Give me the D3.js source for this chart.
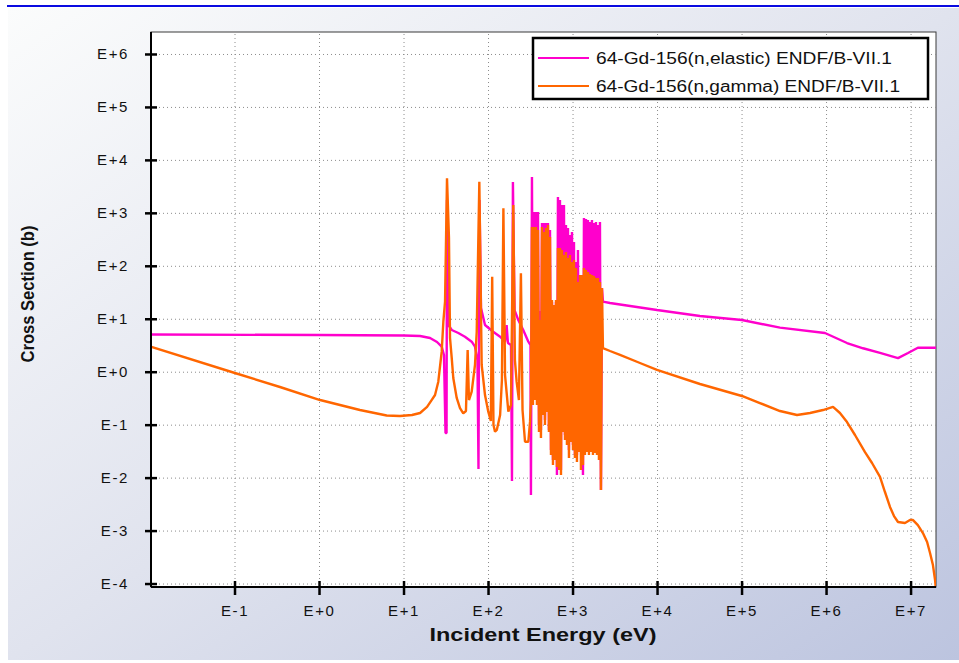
<!DOCTYPE html>
<html>
<head>
<meta charset="utf-8">
<script src="https://cdn.jsdelivr.net/npm/d3@7"></script>
<style>
  html, body { margin: 0; padding: 0; background: #ffffff; }
  svg { display: block; }
  text { font-family: "Liberation Sans", Arial, Helvetica, sans-serif; }
</style>
</head>
<body>
<svg id="chart" width="959" height="663"></svg>
<script>
// ---- data -------------------------------------------------------------
const seriesNames = [
  "64-Gd-156(n,elastic) ENDF/B-VII.1",
  "64-Gd-156(n,gamma) ENDF/B-VII.1"
];
const seriesColors = ["#ff00cc", "#ff6600"];

// decade ticks: incident energy (eV) and cross section (b)
const energyTicks = [1e-1, 1e0, 1e1, 1e2, 1e3, 1e4, 1e5, 1e6, 1e7];
const sigmaTicks  = [1e-4, 1e-3, 1e-2, 1e-1, 1e0, 1e1, 1e2, 1e3, 1e4, 1e5, 1e6];

// [energy eV, cross section b]
const elasticPoints = [
  [0.01, 5.04], [1.0, 4.93], [10.1, 4.83], [15.7, 4.72], [20.6, 4.33], [24.9, 3.64],
  [28.3, 2.97], [30.1, 2.07], [31.4, 0.0696], [32.3, 0.0696], [32.7, 1750], [34.0, 7.62],
  [37.2, 6.13], [44.5, 5.38], [53.3, 4.58], [64.1, 3.69], [70.1, 2.97], [75.0, 1.66],
  [77.1, 0.0145], [79.3, 1750], [82.6, 16.0], [92.1, 7.62], [115, 5.69], [139, 4.58],
  [159, 3.69], [166, 7.62], [172, 3.48], [187, 3.19], [192, 0.00863], [197, 3827],
  [206, 14.6], [228, 9.47], [261, 6.13], [300, 3.69], [318, 3.19], [322, 0.00469],
  [331, 4750], [340, 0.292], [350, 1038], [359, 0.363], [369, 1038], [379, 0.292],
  [390, 1038], [401, 0.0985], [412, 14.0], [423, 0.0793], [435, 643], [447, 0.152],
  [459, 643], [472, 0.122], [485, 643], [498, 0.173], [512, 643], [526, 0.0793],
  [541, 474], [556, 0.0332], [571, 20.7], [587, 0.0215], [603, 18.2], [620, 0.0267],
  [637, 20.7], [654, 0.0112], [672, 1992], [691, 0.0173], [710, 1750], [730, 0.0139],
  [750, 1407], [770, 0.0793], [792, 1407], [814, 0.0638], [836, 590], [859, 0.0513],
  [883, 518], [907, 0.0332], [932, 382], [958, 0.0513], [985, 435], [1012, 0.0413],
  [1040, 282], [1068, 0.0267], [1098, 118], [1128, 0.0267], [1159, 199], [1191, 0.0332],
  [1224, 67.0], [1258, 0.0332], [1293, 67.0], [1329, 0.0112], [1365, 800], [1403, 0.0332],
  [1442, 765], [1481, 0.0332], [1522, 733], [1564, 0.0332], [1608, 672], [1652, 0.0332],
  [1698, 733], [1745, 0.0332], [1793, 643], [1842, 0.0332], [1893, 672], [1945, 0.0332],
  [1999, 590], [2054, 0.0267], [2111, 672], [2169, 0.00583], [2229, 38.1], [2290, 21.0],
  [2776, 19.8], [9980, 14.6], [32.2e3, 11.3], [101e3, 9.47], [285e3, 6.8], [971e3, 5.38],
  [1.77e6, 3.48], [2.74e6, 2.77], [4.35e6, 2.26], [7.10e6, 1.81], [9.33e6, 2.26],
  [1.22e7, 2.84], [2.0e7, 2.84]
];

const gammaPoints = [
  [0.01, 3.0], [0.101, 0.945], [0.345, 0.514], [1.03, 0.292], [3.05, 0.189], [6.32, 0.149],
  [9.08, 0.146], [12.6, 0.152], [15.7, 0.166], [19.0, 0.216], [21.5, 0.29], [23.6, 0.363],
  [25.8, 0.648], [28.3, 2.39], [29.6, 8.79], [31.0, 21.0], [32.7, 4490], [34.5, 335],
  [35.5, 4.33], [37.2, 1.81], [38.8, 0.760], [42.6, 0.319], [46.6, 0.206], [50.9, 0.164],
  [54.8, 0.181], [57.4, 2.57], [59.5, 0.292], [64.1, 0.419], [70.1, 1.34], [73.5, 5.69],
  [78.9, 3875], [84.1, 1.34], [92.1, 0.363], [100.7, 0.176], [108, 0.117], [112, 62.3],
  [116, 0.0985], [121, 0.0736], [127, 0.0793], [139, 0.152], [146, 0.697], [152, 1219],
  [159, 0.866], [174, 0.176], [187, 0.235], [199, 1407], [208, 1.66], [218, 0.648],
  [232, 0.292], [245, 72.2], [256, 0.189], [274, 0.0476], [300, 0.0476], [314, 0.114],
  [322, 0.292], [331, 541], [340, 0.235], [350, 541], [359, 0.292], [369, 541],
  [379, 0.235], [390, 474], [401, 0.0727], [412, 9.47], [423, 0.0560], [435, 541],
  [447, 0.152], [459, 435], [472, 0.0985], [485, 518], [498, 0.173], [512, 590],
  [526, 0.0727], [541, 350], [556, 0.0267], [571, 22.6], [587, 0.0173], [603, 18.2],
  [620, 0.0215], [637, 22.6], [654, 0.0158], [672, 217], [691, 0.0139], [710, 217],
  [730, 0.0112], [750, 199], [770, 0.0727], [792, 160], [814, 0.0513], [836, 182],
  [859, 0.0413], [883, 140], [907, 0.0234], [932, 160], [958, 0.0470], [985, 118],
  [1012, 0.0332], [1040, 129], [1068, 0.0234], [1098, 90.9], [1128, 0.0197], [1159, 49.4],
  [1191, 0.0304], [1224, 67.0], [1258, 0.0139], [1293, 67.0], [1329, 0.0173], [1365, 90.9],
  [1403, 0.0267], [1442, 83.3], [1481, 0.0304], [1522, 76.4], [1564, 0.0267], [1608, 70.0],
  [1652, 0.0304], [1698, 67.0], [1745, 0.0267], [1793, 64.2], [1842, 0.0292], [1893, 58.8],
  [1945, 0.0267], [1999, 58.8], [2054, 0.0215], [2111, 49.4], [2169, 0.00583], [2229, 38.1],
  [2290, 2.80], [2776, 2.46], [3645, 2.07], [6281, 1.46], [9980, 1.08], [32.2e3, 0.586],
  [101e3, 0.348], [165e3, 0.256], [285e3, 0.181], [453e3, 0.152], [646e3, 0.166],
  [920e3, 0.189], [1.21e6, 0.216], [1.46e6, 0.166], [1.77e6, 0.112], [2.20e6, 0.0638],
  [2.89e6, 0.0304], [3.50e6, 0.0189], [4.35e6, 0.0103], [4.98e6, 0.00535], [5.71e6, 0.00279],
  [6.37e6, 0.00188], [7.10e6, 0.00145], [8.59e6, 0.00139], [9.85e6, 0.00158],
  [1.07e7, 0.00158], [1.22e7, 0.00127], [1.40e7, 0.000899], [1.57e7, 0.000608],
  [1.70e7, 0.000377], [1.84e7, 0.000223], [1.95e7, 0.000116], [2.0e7, 0.0000754]
];

// ---- layout -------------------------------------------------------------
const W = 959, H = 663;
const plot = { left: 151, top: 32, right: 936, bottom: 587 };

const svg = d3.select("#chart");
const defs = svg.append("defs");

const bg = defs.append("linearGradient").attr("id", "bgGrad")
  .attr("x1", 0).attr("y1", 0).attr("x2", 1).attr("y2", 1);
bg.append("stop").attr("offset", 0).attr("stop-color", "#fbfcfc");
bg.append("stop").attr("offset", 0.5).attr("stop-color", "#e0e3ee");
bg.append("stop").attr("offset", 1).attr("stop-color", "#bcc4df");

defs.append("clipPath").attr("id", "plotClip")
  .append("rect")
  .attr("x", plot.left).attr("y", plot.top)
  .attr("width", plot.right - plot.left).attr("height", plot.bottom - plot.top);

// page background and header rule
svg.append("rect").attr("x", 8).attr("y", 8).attr("width", W - 8).attr("height", 652)
  .attr("fill", "url(#bgGrad)");
svg.append("rect").attr("x", 7).attr("y", 5).attr("width", W - 7).attr("height", 2)
  .attr("fill", "#0a0ae0");

// scales
const x = d3.scaleLog().domain([1e-2, 2e7]).range([plot.left - 1, plot.right]);
const y = d3.scaleLog().domain([8.6e-5, 2.6e6]).range([plot.bottom, plot.top]);

const expLabel = d => {
  const e = Math.round(Math.log10(d));
  return "E" + (e >= 0 ? "+" : "-") + Math.abs(e);
};

// plot area
svg.append("rect")
  .attr("x", plot.left).attr("y", plot.top)
  .attr("width", plot.right - plot.left).attr("height", plot.bottom - plot.top)
  .attr("fill", "#ffffff").attr("stroke", "#3a3a3a").attr("stroke-width", 1);

// dotted grid
const grid = svg.append("g").attr("class", "grid");
grid.append("g")
  .attr("transform", `translate(0,${plot.bottom})`)
  .call(d3.axisBottom(x).tickValues(energyTicks).tickFormat("")
    .tickSize(-(plot.bottom - plot.top)))
  .call(g => g.select(".domain").remove());
grid.append("g")
  .attr("transform", `translate(${plot.left},0)`)
  .call(d3.axisLeft(y).tickValues(sigmaTicks).tickFormat("")
    .tickSize(-(plot.right - plot.left)))
  .call(g => g.select(".domain").remove());
grid.selectAll("line")
  .attr("stroke", "#8c8c8c").attr("stroke-width", 1).attr("stroke-dasharray", "1,3");

// curves
const line = d3.line().x(d => x(d[0])).y(d => y(d[1]));
const curves = svg.append("g").attr("clip-path", "url(#plotClip)");
[elasticPoints, gammaPoints].forEach((pts, i) => {
  curves.append("path")
    .datum(pts)
    .attr("d", line)
    .attr("fill", "none")
    .attr("stroke", seriesColors[i])
    .attr("stroke-width", 2.4)
    .attr("stroke-linejoin", "bevel");
});

// axes
const xAxis = svg.append("g")
  .attr("transform", `translate(0,${plot.bottom})`)
  .call(d3.axisBottom(x).tickValues(energyTicks).tickFormat(expLabel).tickSize(8).tickPadding(10));
xAxis.select(".domain").attr("stroke", "#000").attr("stroke-width", 2)
  .attr("d", `M${plot.left},0H${plot.right}`);
xAxis.selectAll(".tick line").attr("y1", -6).attr("y2", 8)
  .attr("stroke", "#000").attr("stroke-width", 2.5);
xAxis.selectAll(".tick text")
  .attr("font-size", 15).attr("letter-spacing", 1.6).attr("fill", "#111")
  .attr("font-family", "'Liberation Sans', Arial, sans-serif");

const yAxis = svg.append("g")
  .attr("transform", `translate(${plot.left},0)`)
  .call(d3.axisLeft(y).tickValues(sigmaTicks).tickFormat(expLabel).tickSize(6).tickPadding(16));
yAxis.select(".domain").attr("stroke", "#000").attr("stroke-width", 2)
  .attr("d", `M0,${plot.top}V${plot.bottom}`);
yAxis.selectAll(".tick line").attr("x1", -6).attr("x2", 6)
  .attr("stroke", "#000").attr("stroke-width", 2.5);
yAxis.selectAll(".tick text")
  .attr("font-size", 15).attr("letter-spacing", 1.6).attr("fill", "#111")
  .attr("font-family", "'Liberation Sans', Arial, sans-serif");

// axis titles
svg.append("text")
  .attr("x", 543).attr("y", 641)
  .attr("text-anchor", "middle")
  .attr("font-size", 19).attr("font-weight", "bold").attr("fill", "#111")
  .attr("textLength", 227).attr("lengthAdjust", "spacingAndGlyphs")
  .text("Incident Energy (eV)");
svg.append("text")
  .attr("transform", "translate(34,294) rotate(-90)")
  .attr("text-anchor", "middle")
  .attr("font-size", 18).attr("font-weight", "bold").attr("fill", "#111")
  .attr("textLength", 137).attr("lengthAdjust", "spacingAndGlyphs")
  .text("Cross Section (b)");

// legend
const legend = svg.append("g");
legend.append("rect")
  .attr("x", 533).attr("y", 38).attr("width", 395).attr("height", 61)
  .attr("fill", "#ffffff").attr("stroke", "#000").attr("stroke-width", 2.5);
const legendLens = [296, 304];
seriesNames.forEach((name, i) => {
  const cy = 58 + i * 28;
  legend.append("line")
    .attr("x1", 538).attr("x2", 589).attr("y1", cy).attr("y2", cy)
    .attr("stroke", seriesColors[i]).attr("stroke-width", 2);
  legend.append("text")
    .attr("x", 596).attr("y", cy + 6)
    .attr("font-size", 16).attr("fill", "#111")
    .attr("textLength", legendLens[i]).attr("lengthAdjust", "spacingAndGlyphs")
    .text(name);
});
</script>
</body>
</html>
